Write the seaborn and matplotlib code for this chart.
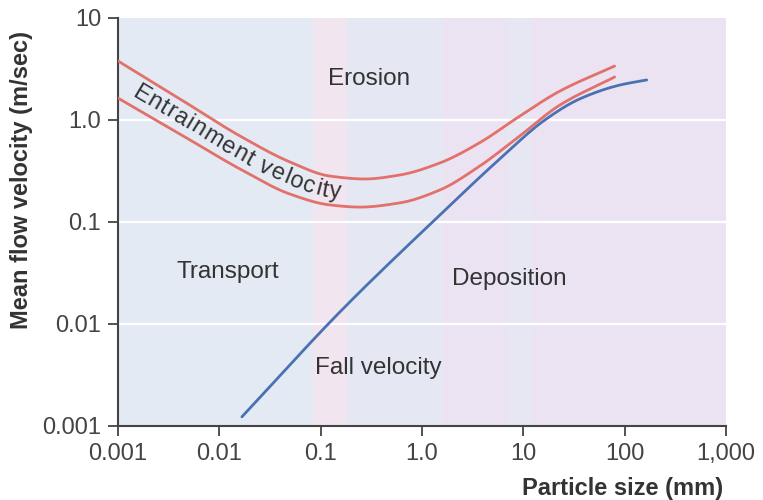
import numpy as np
import pandas as pd
import matplotlib
matplotlib.use("Agg")
import matplotlib.pyplot as plt
import matplotlib.transforms as mtransforms
from matplotlib.font_manager import FontProperties
import seaborn as sns

# Data (particle size in mm, velocity in m/s)
upper_x = [0.001, 0.00408, 0.0160, 0.0497, 0.1233, 0.273, 0.604, 1.50, 3.72, 9.21, 22.9, 79.6]
upper_y = [3.79, 1.61, 0.697, 0.388, 0.282, 0.264, 0.289, 0.379, 0.60, 1.09, 1.92, 3.38]
lower_x = [0.001, 0.00408, 0.0160, 0.0497, 0.1233, 0.244, 0.604, 1.50, 3.72, 9.21, 22.9, 79.6]
lower_y = [1.64, 0.729, 0.331, 0.188, 0.147, 0.140, 0.154, 0.206, 0.354, 0.697, 1.40, 2.64]
fall_x = [0.0167, 0.1545, 1.50, 5.85, 16.3, 36.0, 89.3, 165]
fall_y = [0.00123, 0.0131, 0.117, 0.415, 1.0, 1.61, 2.20, 2.47]

band_edges = [0.001, 0.084, 0.18, 1.6, 6.9, 12.3, 1000]
band_colors = ["#e3eaf3", "#f1e5f0", "#e5e8f3", "#ebe3f2", "#e6e7f3", "#ebe3f2"]

x_ticks = [0.001, 0.01, 0.1, 1, 10, 100, 1000]
x_ticklabels = ["0.001", "0.01", "0.1", "1.0", "10", "100", "1,000"]
y_ticks = [0.001, 0.01, 0.1, 1, 10]
y_ticklabels = ["0.001", "0.01", "0.1", "1.0", "10"]

region_labels = ["Erosion", "Transport", "Deposition", "Fall velocity"]
region_x = [0.3, 0.012, 7.3, 0.37]
region_y = [2.5, 0.032, 0.0275, 0.0037]
curve_label = "Entrainment velocity"

sns.set_theme(style="white")
plt.rcParams['font.family'] = ['Liberation Sans', 'DejaVu Sans']

W, H = 763, 500
fig = plt.figure(figsize=(W / 100, H / 100), dpi=100)
ax = fig.add_axes([118 / W, 1 - 426 / H, (726 - 118) / W, (426 - 18) / H])

ax.set_xscale("log")
ax.set_yscale("log")
ax.set_xlim(0.001, 1000)
ax.set_ylim(0.001, 10)

for i in range(len(band_colors)):
    ax.axvspan(band_edges[i], band_edges[i + 1], color=band_colors[i], lw=0, zorder=0)

for yv in [0.01, 0.1, 1]:
    ax.axhline(yv, color="white", lw=1.6, zorder=1)


def pchip(x, y, xq):
    x = np.asarray(x, float); y = np.asarray(y, float)
    h = np.diff(x); d = np.diff(y) / h
    n = len(x)
    m = np.zeros(n)
    m[0], m[-1] = d[0], d[-1]
    for k in range(1, n - 1):
        if d[k - 1] * d[k] <= 0:
            m[k] = 0.0
        else:
            w1 = 2 * h[k] + h[k - 1]
            w2 = h[k] + 2 * h[k - 1]
            m[k] = (w1 + w2) / (w1 / d[k - 1] + w2 / d[k])
    i = np.clip(np.searchsorted(x, xq) - 1, 0, n - 2)
    t = (xq - x[i]) / h[i]
    h00 = 2 * t**3 - 3 * t**2 + 1
    h10 = t**3 - 2 * t**2 + t
    h01 = -2 * t**3 + 3 * t**2
    h11 = t**3 - t**2
    return h00 * y[i] + h10 * h[i] * m[i] + h01 * y[i + 1] + h11 * h[i] * m[i + 1]


def smooth(xs, ys, n=300):
    lx, ly = np.log10(xs), np.log10(ys)
    q = np.linspace(lx[0], lx[-1], n)
    return 10 ** q, 10 ** pchip(lx, ly, q)


frames = []
for name, xs, ys in [("upper", upper_x, upper_y), ("lower", lower_x, lower_y), ("fall", fall_x, fall_y)]:
    sx, sy = smooth(xs, ys)
    frames.append(pd.DataFrame({"x": sx, "y": sy, "curve": name}))
df = pd.concat(frames, ignore_index=True)

palette = {"upper": "#e2716b", "lower": "#e2716b", "fall": "#4a72b2"}
sns.lineplot(data=df, x="x", y="y", hue="curve", units="curve", estimator=None,
             sort=False, palette=palette, lw=2.0, legend=False, ax=ax, zorder=3)

for lab, xv, yv in zip(region_labels, region_x, region_y):
    ax.text(xv, yv, lab, ha="center", va="center", fontsize=17.5, color="#333333", zorder=4)

# Curved label between the two entrainment curves
fig.canvas.draw()
renderer = fig.canvas.get_renderer()
fp = FontProperties(family=['Liberation Sans', 'DejaVu Sans'], size=17)
q = np.linspace(np.log10(0.00118), np.log10(0.5), 800)
lu = pchip(np.log10(upper_x), np.log10(upper_y), q)
ll = pchip(np.log10(lower_x), np.log10(lower_y), q)
mid = np.column_stack([10 ** q, 10 ** ((lu + ll) / 2)])
disp = ax.transData.transform(mid)
seg = np.hypot(np.diff(disp[:, 0]), np.diff(disp[:, 1]))
arc = np.concatenate([[0], np.cumsum(seg)])


def width(s):
    if not s:
        return 0.0
    w, _, _ = renderer.get_text_width_height_descent(s, fp, ismath=False)
    return w


start = 11.0
spacing = 1.0
base_off = 7.0
for i, ch in enumerate(curve_label):
    if ch == " ":
        continue
    s = start + i * spacing + (width(curve_label[:i]) + width(curve_label[:i + 1])) / 2
    px = np.interp(s, arc, disp[:, 0]); py = np.interp(s, arc, disp[:, 1])
    j = min(np.searchsorted(arc, s), len(arc) - 1)
    j0, j1 = max(j - 4, 0), min(j + 4, len(arc) - 1)
    dx = disp[j1, 0] - disp[j0, 0]; dy = disp[j1, 1] - disp[j0, 1]
    ang = np.arctan2(dy, dx)
    nx, ny = -np.sin(ang), np.cos(ang)
    bx, by = px - nx * base_off, py - ny * base_off
    ax.text(bx, by, ch, transform=mtransforms.IdentityTransform(), fontproperties=fp,
            rotation=np.degrees(ang), rotation_mode="anchor", ha="center", va="baseline",
            color="#333333", zorder=4)

ax.set_xticks(x_ticks)
ax.set_xticklabels(x_ticklabels)
ax.set_yticks(y_ticks)
ax.set_yticklabels(y_ticklabels)
ax.minorticks_off()
ax.tick_params(axis="both", which="major", length=7, width=1.3, color="#444444",
               labelsize=17, labelcolor="#444444", direction="out", bottom=True, left=True, pad=5)

for side in ["top", "right"]:
    ax.spines[side].set_visible(False)
for side in ["left", "bottom"]:
    ax.spines[side].set_color("#444444")
    ax.spines[side].set_linewidth(1.5)

ax.set_xlabel("")
ax.set_ylabel("")
fig.text(723 / W, 1 - 488 / H, "Particle size (mm)", ha="right", va="center", fontsize=17,
         fontweight="bold", color="#333333")
fig.text(22 / W, 1 - 180 / H, "Mean flow velocity (m/sec)", ha="center", va="center", rotation=90,
         fontsize=17, fontweight="bold", color="#333333")

fig.savefig("out.png", dpi=100)
